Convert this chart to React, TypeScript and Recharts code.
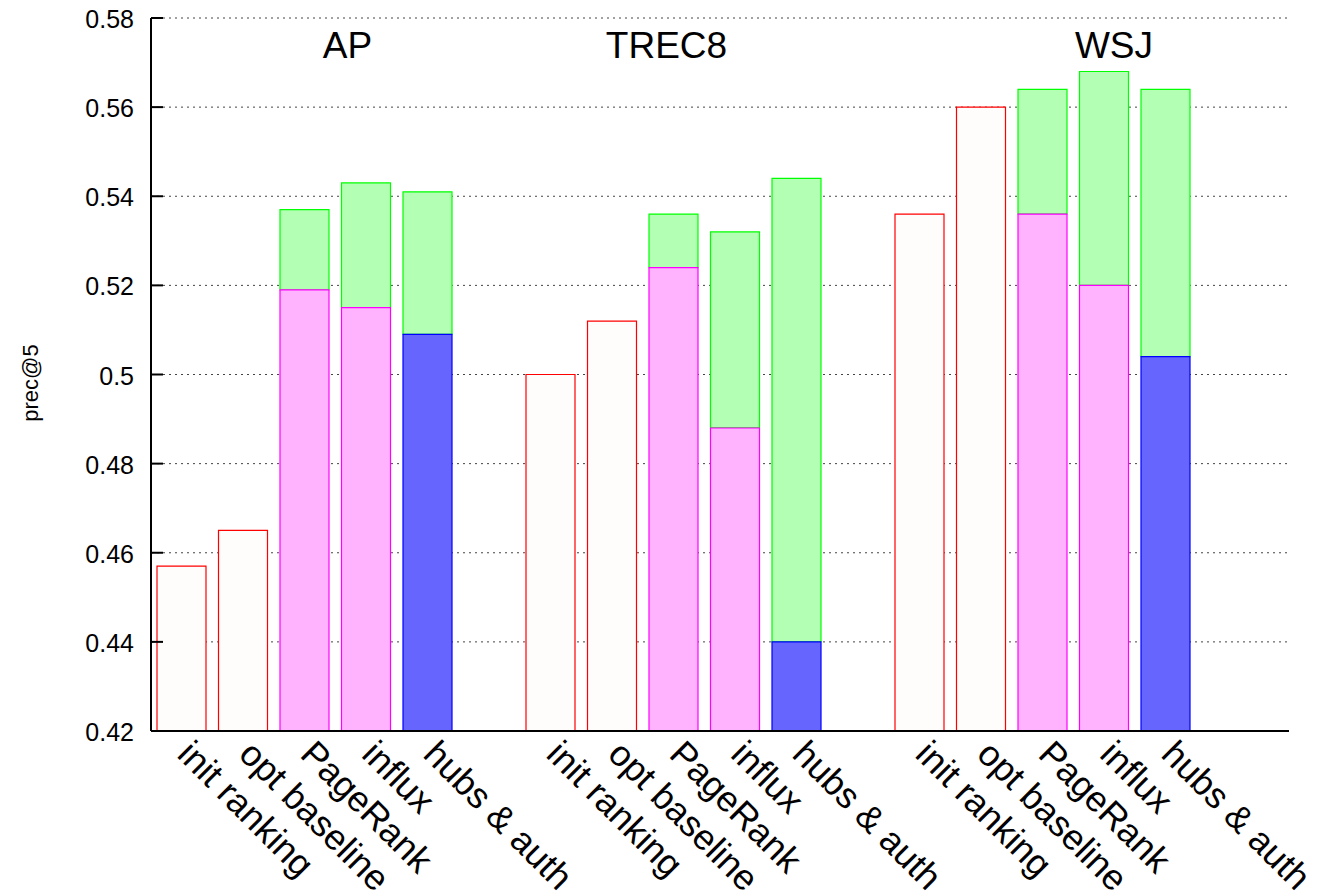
import { BarChart, Bar, XAxis, YAxis, CartesianGrid } from 'recharts'

const AXIS_MIN = 0.42
const AXIS_MAX = 0.58
const yTicks = [0.42, 0.44, 0.46, 0.48, 0.5, 0.52, 0.54, 0.56, 0.58]

const datasets = ['AP', 'TREC8', 'WSJ']
const methods = ['init ranking', 'opt baseline', 'PageRank', 'influx', 'hubs & auth']
// fill style of the lower part of each method's bar
const methodKind = ['plain', 'plain', 'pink', 'pink', 'blue']

// lower (solid) part of each bar
const apBase = [0.457, 0.465, 0.519, 0.515, 0.509]
const trec8Base = [0.5, 0.512, 0.524, 0.488, 0.44]
const wsjBase = [0.536, 0.56, 0.536, 0.52, 0.504]

// top of the green part, null where there is none
const apTop = [null, null, 0.537, 0.543, 0.541]
const trec8Top = [null, null, 0.536, 0.532, 0.544]
const wsjTop = [null, null, 0.564, 0.568, 0.564]

const baseByDataset = [apBase, trec8Base, wsjBase]
const topByDataset = [apTop, trec8Top, wsjTop]

const FONT = '"Liberation Sans", Arial, Helvetica, sans-serif'

type Row = { slot: string; label: string; kind: string; base: number | null; top: number | null }

const rows: Row[] = []
datasets.forEach((ds, g) => {
  methods.forEach((m, i) => {
    rows.push({ slot: `${ds}-${i}`, label: m, kind: methodKind[i], base: baseByDataset[g][i], top: topByDataset[g][i] })
  })
  // empty slot between collections
  rows.push({ slot: `${ds}-gap`, label: '', kind: 'none', base: null, top: null })
})

const labelBySlot: Record<string, string> = {}
rows.forEach(r => { labelBySlot[r.slot] = r.label })

const lower = (kind: string) => (r: Row) =>
  r.kind === kind && r.base != null ? [AXIS_MIN, r.base] : [AXIS_MIN, AXIS_MIN]
const upper = (r: Row) =>
  r.top != null && r.base != null ? [r.base, r.top] : [AXIS_MIN, AXIS_MIN]

const fmt = (v: number) => String(Math.round(v * 100) / 100)

// eslint-disable-next-line @typescript-eslint/no-explicit-any
function YTick({ x, y, payload }: any) {
  return (
    <g>
      <line x1={x + 17} x2={x + 29} y1={y} y2={y} stroke="#000" strokeWidth={2} />
      <text x={x} y={y} dy="0.4em" textAnchor="end" fontSize={25} fontFamily={FONT} fill="#000">
        {fmt(payload.value)}
      </text>
    </g>
  )
}

// eslint-disable-next-line @typescript-eslint/no-explicit-any
function XTick({ x, y, payload }: any) {
  const tx = x - 6
  const ty = y + 25
  return (
    <text x={tx} y={ty} transform={`rotate(45, ${tx}, ${ty})`} textAnchor="start" fontSize={36} fontFamily={FONT} fill="#000">
      {labelBySlot[payload.value]}
    </text>
  )
}

const BAR = 49

export default function App() {
  return (
    <div style={{ position: 'absolute', left: 0, top: 0, width: 1317, height: 896, background: '#fff', overflow: 'hidden' }}>
      <BarChart
        width={1317}
        height={896}
        data={rows}
        margin={{ top: 18, right: 28, bottom: 0, left: 0 }}
        barGap={-BAR}
        barCategoryGap={0}
      >
        <CartesianGrid vertical={false} stroke="#444" strokeDasharray="2 4" />
        <XAxis
          dataKey="slot"
          type="category"
          height={165}
          interval={0}
          tickSize={0}
          tickMargin={0}
          tickLine={false}
          axisLine={{ stroke: '#000', strokeWidth: 2 }}
          padding={{ left: 0, right: 31 }}
          tick={<XTick />}
        />
        <YAxis
          width={151}
          domain={[AXIS_MIN, AXIS_MAX]}
          ticks={yTicks}
          allowDataOverflow
          tickSize={0}
          tickMargin={17}
          tickLine={false}
          axisLine={{ stroke: '#000', strokeWidth: 2 }}
          tick={<YTick />}
        />
        <Bar dataKey={upper} barSize={BAR} fill="#b3ffb3" stroke="#00ff00" strokeWidth={1.2} isAnimationActive={false} />
        <Bar dataKey={lower('plain')} barSize={BAR} fill="#fffcfc" stroke="#ff0000" strokeWidth={1.2} isAnimationActive={false} />
        <Bar dataKey={lower('pink')} barSize={BAR} fill="#ffb3ff" stroke="#ff00ff" strokeWidth={1.2} isAnimationActive={false} />
        <Bar dataKey={lower('blue')} barSize={BAR} fill="#6666ff" stroke="#0000ff" strokeWidth={1.2} isAnimationActive={false} />
      </BarChart>
      <svg width={1317} height={896} style={{ position: 'absolute', left: 0, top: 0, pointerEvents: 'none' }}>
        <g fontFamily={FONT} fill="#000">
          <text x={347.5} y={57.5} fontSize={37} textAnchor="middle">{datasets[0]}</text>
          <text x={666.5} y={57.5} fontSize={37} textAnchor="middle">{datasets[1]}</text>
          <text x={1114} y={57.5} fontSize={37} textAnchor="middle">{datasets[2]}</text>
          <text x={38} y={383} fontSize={22} textAnchor="middle" transform="rotate(-90, 38, 383)">prec@5</text>
        </g>
      </svg>
    </div>
  )
}
